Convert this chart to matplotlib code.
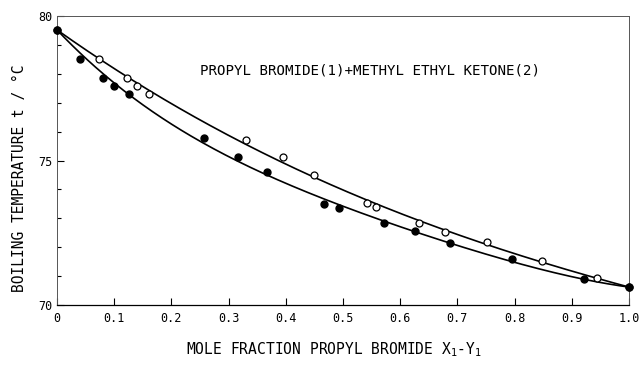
import numpy as np
import matplotlib
matplotlib.use("Agg")
import matplotlib.pyplot as plt
from matplotlib.ticker import MultipleLocator

plt.rcParams['font.family'] = ['DejaVu Sans Mono']
plt.rcParams['mathtext.fontset'] = 'custom'
plt.rcParams['mathtext.rm'] = 'DejaVu Sans Mono'
plt.rcParams['mathtext.it'] = 'DejaVu Sans Mono'

# Liquid composition x1 (filled) and vapor composition y1 (open)
x_liq = [0.0, 0.040, 0.080, 0.100, 0.126, 0.257, 0.316, 0.367, 0.467, 0.493,
         0.572, 0.626, 0.687, 0.795, 0.921, 1.0]
t_liq = [79.52, 78.51, 77.85, 77.58, 77.30, 75.78, 75.12, 74.60, 73.49, 73.36,
         72.84, 72.56, 72.15, 71.59, 70.90, 70.62]
y_vap = [0.0, 0.073, 0.122, 0.140, 0.161, 0.330, 0.395, 0.449, 0.542, 0.558,
         0.633, 0.678, 0.752, 0.848, 0.944, 1.0]
t_vap = [79.52, 78.51, 77.85, 77.58, 77.30, 75.71, 75.12, 74.50, 73.53, 73.39,
         72.84, 72.53, 72.18, 71.52, 70.93, 70.62]

xticks = [0.0, 0.1, 0.2, 0.3, 0.4, 0.5, 0.6, 0.7, 0.8, 0.9, 1.0]
xtick_labels = ['0', '0.1', '0.2', '0.3', '0.4', '0.5', '0.6', '0.7', '0.8', '0.9', '1.0']
yticks = [70, 75, 80]

fig = plt.figure(figsize=(6.39, 3.66), dpi=100)
ax = fig.add_axes([57/639, 1-305/366, (629-57)/639, (305-16)/366])

xs = np.linspace(0, 1, 300)
w_liq = np.ones(len(x_liq)); w_liq[0] = w_liq[-1] = 20
w_vap = np.ones(len(y_vap)); w_vap[0] = w_vap[-1] = 20
p_liq = np.polyfit(x_liq, t_liq, 4, w=w_liq)
p_vap = np.polyfit(y_vap, t_vap, 3, w=w_vap)
ax.plot(xs, np.polyval(p_liq, xs), color='black', lw=1.2, zorder=2)
ax.plot(xs, np.polyval(p_vap, xs), color='black', lw=1.2, zorder=2)
ax.plot(y_vap, t_vap, 'o', ms=5, mfc='white', mec='black', mew=0.9, zorder=3, clip_on=False)
ax.plot(x_liq, t_liq, 'o', ms=5, mfc='black', mec='black', zorder=4, clip_on=False)

ax.set_xlim(0, 1.0)
ax.set_ylim(70, 80)
ax.set_xticks(xticks)
ax.set_xticklabels(xtick_labels)
ax.set_yticks(yticks)
ax.yaxis.set_minor_locator(MultipleLocator(1))
ax.tick_params(axis='both', which='both', direction='in', labelsize=8.5, color='black')
ax.tick_params(axis='both', which='major', length=5, width=0.8)
ax.tick_params(axis='y', which='minor', length=3, width=0.8)
ax.tick_params(axis='x', pad=5)
ax.tick_params(axis='y', pad=3)

for s in ['top', 'right', 'left']:
    ax.spines[s].set_linewidth(0.7)
    ax.spines[s].set_color('#555555')
ax.spines['bottom'].set_linewidth(0.9)

ax.text(0.25, 78.13, 'PROPYL BROMIDE(1)+METHYL ETHYL KETONE(2)', fontsize=10.2,
        va='center', ha='left')

fig.text(334/639, 1-350/366, 'MOLE FRACTION PROPYL BROMIDE X$_1$-Y$_1$', fontsize=10.5,
         ha='center', va='center')
fig.text(20/639, 1-178/366, 'BOILING TEMPERATURE t / °C', fontsize=10.5,
         ha='center', va='center', rotation=90)

fig.savefig('out.png', dpi=100)
